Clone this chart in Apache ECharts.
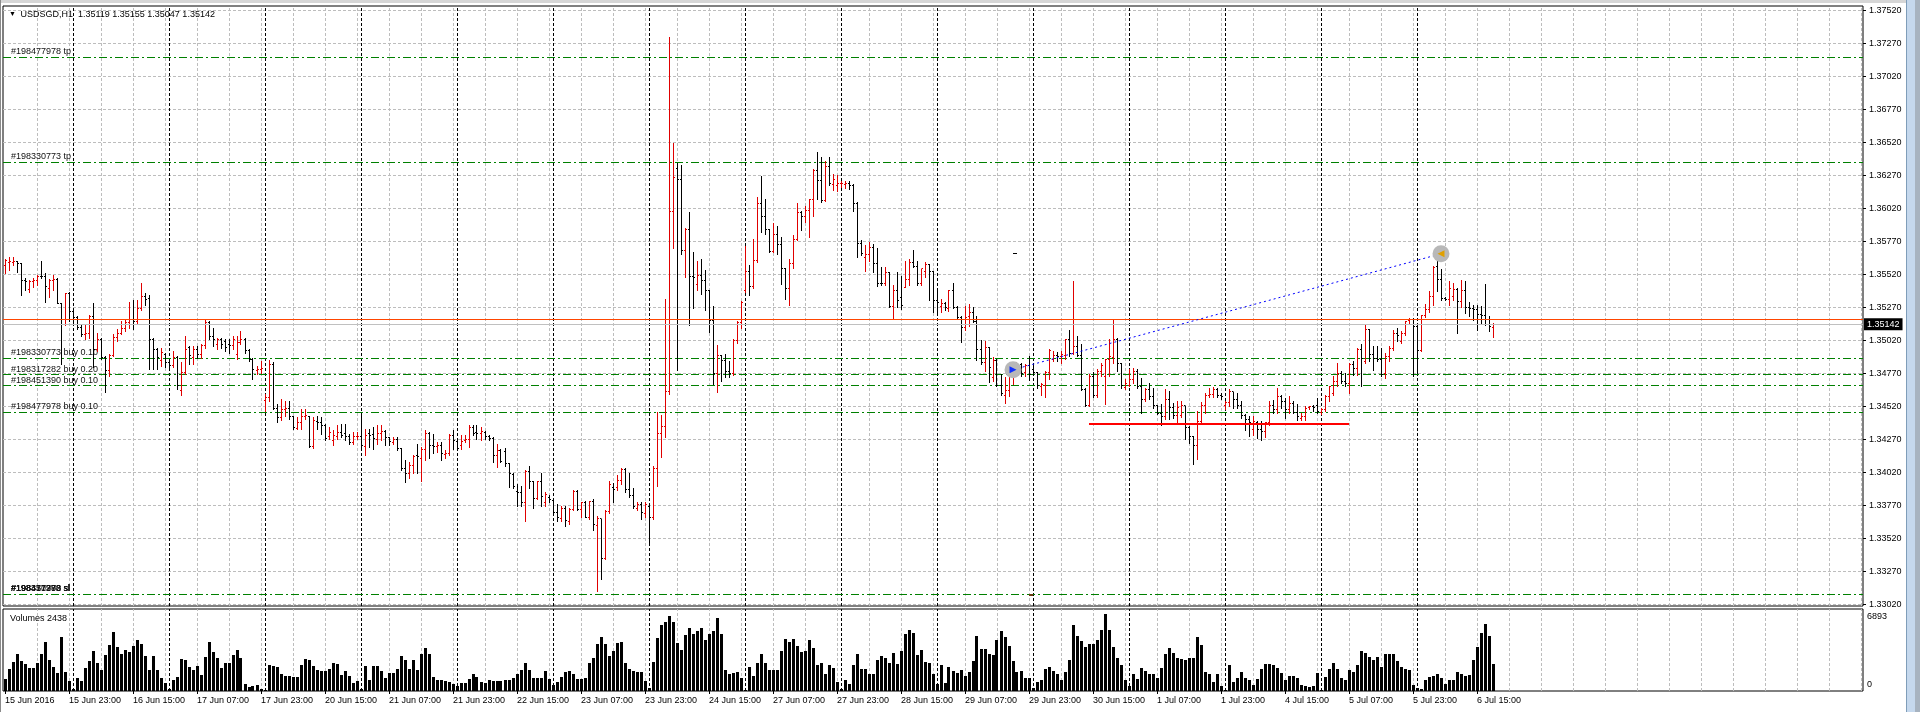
<!DOCTYPE html>
<html><head><meta charset="utf-8">
<script src="https://cdn.jsdelivr.net/npm/echarts@6/dist/echarts.min.js"></script>
<style>html,body{margin:0;padding:0;background:#fff;overflow:hidden}#c{width:1920px;height:712px}</style>
</head><body><div id="c"></div>
<script>
// ---------- data ----------
const symbolName = 'USDSGD,H1';
const yearLabel = '2016';
const tradingDays = ['15 Jun','16 Jun','17 Jun','20 Jun','21 Jun','22 Jun','23 Jun','24 Jun','27 Jun','28 Jun','29 Jun','30 Jun','1 Jul','4 Jul','5 Jul','6 Jul'];
const firstHour = 7, lastHour = 19;
const emptySlots = 92;

const openP = [
1.35590,1.35608,1.35610,1.35615,1.35603,1.35478,1.35403,1.35465,1.35478,1.35508,
1.35503,1.35415,1.35473,1.35485,1.35298,1.35178,1.35378,1.35240,1.35190,1.35115,
1.35065,1.35073,1.35198,1.34953,1.35028,1.34890,1.34790,1.34908,1.35040,1.35073,
1.35108,1.35153,1.35178,1.35165,1.35265,1.35353,1.35340,1.35028,1.34953,1.34865,
1.34915,1.34853,1.34828,1.34890,1.34640,1.34778,1.34965,1.34890,1.34953,1.34915,
1.34978,1.35153,1.35053,1.34990,1.35028,1.35015,1.34990,1.34983,1.34915,1.35003,
1.35028,1.34940,1.34878,1.34790,1.34800,1.34563,1.34588,1.34838,1.34505,1.34438,
1.34495,1.34505,1.34445,1.34355,1.34400,1.34445,1.34445,1.34213,1.34405,1.34400,
1.34375,1.34288,1.34263,1.34295,1.34320,1.34313,1.34295,1.34245,1.34288,1.34295,
1.34213,1.34313,1.34305,1.34270,1.34313,1.34330,1.34280,1.34245,1.34270,1.34200,
1.34045,1.34013,1.34075,1.34150,1.34125,1.34195,1.34313,1.34220,1.34213,1.34225,
1.34155,1.34163,1.34300,1.34250,1.34225,1.34263,1.34270,1.34363,1.34320,1.34313,
1.34325,1.34288,1.34275,1.34145,1.34188,1.34176,1.34088,1.34006,1.33873,1.33868,
1.33791,1.34025,1.33950,1.33824,1.33950,1.33791,1.33832,1.33804,1.33713,1.33667,
1.33749,1.33647,1.33741,1.33873,1.33736,1.33791,1.33680,1.33796,1.33620,1.33667,
1.33364,1.33722,1.33906,1.33901,1.33956,1.34038,1.33887,1.33846,1.33749,1.33777,
1.33708,1.33763,1.33675,1.34052,1.34314,1.34364,1.34631,1.35995,1.36325,1.36237,
1.35705,1.35862,1.35504,1.35444,1.35512,1.35471,1.35402,1.35168,1.34769,1.34906,
1.34865,1.34782,1.34769,1.35017,1.35154,1.35402,1.35540,1.35430,1.35626,1.36055,
1.35959,1.35858,1.35694,1.35823,1.35747,1.35563,1.35411,1.35601,1.35783,1.35992,
1.35959,1.36005,1.36086,1.36308,1.36232,1.36080,1.36338,1.36202,1.36194,1.36207,
1.36202,1.36212,1.36194,1.36055,1.35757,1.35651,1.35671,1.35722,1.35606,1.35454,
1.35454,1.35538,1.35278,1.35399,1.35348,1.35424,1.35480,1.35613,1.35581,1.35454,
1.35545,1.35596,1.35543,1.35323,1.35278,1.35298,1.35260,1.35399,1.35273,1.35197,
1.35116,1.35202,1.35235,1.35164,1.34949,1.34856,1.34964,1.34742,1.34869,1.34679,
1.34605,1.34637,1.34763,1.34813,1.34839,1.34776,1.34826,1.34801,1.34776,1.34670,
1.34680,1.34776,1.34877,1.34902,1.34897,1.34902,1.35028,1.34922,1.34977,1.34907,
1.34649,1.34528,1.34750,1.34599,1.34788,1.34750,1.34877,1.34889,1.35028,1.34846,
1.34662,1.34680,1.34720,1.34788,1.34670,1.34574,1.34649,1.34594,1.34523,1.34467,
1.34442,1.34574,1.34510,1.34447,1.34452,1.34523,1.34359,1.34291,1.34220,1.34402,
1.34523,1.34604,1.34611,1.34649,1.34604,1.34523,1.34548,1.34629,1.34574,1.34523,
1.34447,1.34417,1.34343,1.34394,1.34348,1.34330,1.34394,1.34525,1.34494,1.34596,
1.34558,1.34494,1.34545,1.34474,1.34431,1.34444,1.34515,1.34520,1.34525,1.34474,
1.34494,1.34596,1.34621,1.34709,1.34767,1.34709,1.34696,1.34835,1.34810,1.34949,
1.34861,1.35101,1.34911,1.34886,1.34873,1.34772,1.34899,1.34962,1.35075,1.35012,
1.35075,1.35171,1.35176,1.35126,1.34944,1.35207,1.35252,1.35353,1.35580,1.35479,
1.35340,1.35333,1.35353,1.35404,1.35315,1.35398,1.35272,1.35265,1.35252,1.35214,
1.35207,1.35181,1.35119];

const highP = [
1.35640,1.35653,1.35653,1.35623,1.35608,1.35490,1.35478,1.35490,1.35515,1.35623,
1.35528,1.35483,1.35515,1.35490,1.35303,1.35383,1.35390,1.35248,1.35203,1.35140,
1.35140,1.35215,1.35303,1.35078,1.35040,1.34903,1.34915,1.35065,1.35103,1.35165,
1.35178,1.35315,1.35328,1.35328,1.35453,1.35378,1.35365,1.35040,1.34965,1.34965,
1.34928,1.34878,1.34940,1.34903,1.34853,1.35053,1.34978,1.34978,1.34978,1.34990,
1.35178,1.35165,1.35115,1.35040,1.35040,1.35028,1.35028,1.35053,1.35053,1.35090,
1.35040,1.34953,1.34890,1.34828,1.34863,1.34613,1.34875,1.34855,1.34538,1.34575,
1.34563,1.34563,1.34450,1.34438,1.34500,1.34500,1.34450,1.34438,1.34450,1.34438,
1.34388,1.34363,1.34338,1.34375,1.34388,1.34388,1.34313,1.34325,1.34325,1.34463,
1.34350,1.34350,1.34363,1.34375,1.34380,1.34338,1.34288,1.34288,1.34288,1.34205,
1.34113,1.34100,1.34150,1.34238,1.34213,1.34338,1.34325,1.34313,1.34250,1.34250,
1.34188,1.34313,1.34338,1.34263,1.34300,1.34300,1.34375,1.34375,1.34380,1.34363,
1.34330,1.34300,1.34288,1.34238,1.34200,1.34204,1.34094,1.34016,1.33928,1.33914,
1.34038,1.34066,1.33956,1.33956,1.34011,1.33873,1.33846,1.33818,1.33777,1.33763,
1.33763,1.33749,1.33887,1.33887,1.33796,1.33804,1.33804,1.33818,1.33686,1.33667,
1.33735,1.33956,1.33942,1.33997,1.34052,1.34052,1.34011,1.33901,1.33791,1.33791,
1.33791,1.33777,1.34066,1.34479,1.34452,1.35333,1.37322,1.36518,1.36366,1.36353,
1.35871,1.35995,1.35691,1.35623,1.35636,1.35554,1.35402,1.35278,1.34989,1.34906,
1.34920,1.34865,1.35030,1.35168,1.35320,1.35733,1.35595,1.35790,1.36106,1.36270,
1.36093,1.35866,1.35909,1.35891,1.35803,1.35570,1.35639,1.35820,1.36060,1.36000,
1.36043,1.36093,1.36320,1.36452,1.36409,1.36378,1.36414,1.36283,1.36277,1.36232,
1.36232,1.36227,1.36207,1.36068,1.35783,1.35740,1.35765,1.35752,1.35722,1.35576,
1.35576,1.35538,1.35437,1.35538,1.35512,1.35626,1.35639,1.35707,1.35626,1.35563,
1.35613,1.35601,1.35543,1.35411,1.35336,1.35310,1.35404,1.35454,1.35278,1.35202,
1.35278,1.35293,1.35273,1.35202,1.35020,1.35015,1.34970,1.34894,1.34881,1.34768,
1.34740,1.34801,1.34851,1.34856,1.34851,1.34839,1.34902,1.34831,1.34781,1.34700,
1.34788,1.34957,1.34940,1.34932,1.34940,1.35033,1.35099,1.35470,1.35053,1.34990,
1.34662,1.34763,1.34781,1.34801,1.34851,1.34882,1.35033,1.35180,1.35041,1.34851,
1.34725,1.34801,1.34813,1.34801,1.34738,1.34662,1.34700,1.34662,1.34528,1.34536,
1.34654,1.34637,1.34548,1.34561,1.34561,1.34523,1.34372,1.34296,1.34485,1.34553,
1.34624,1.34662,1.34669,1.34662,1.34624,1.34561,1.34649,1.34629,1.34624,1.34561,
1.34460,1.34447,1.34444,1.34406,1.34406,1.34399,1.34558,1.34570,1.34659,1.34608,
1.34583,1.34601,1.34558,1.34540,1.34469,1.34525,1.34525,1.34532,1.34583,1.34507,
1.34608,1.34676,1.34747,1.34848,1.34785,1.34772,1.34848,1.34861,1.34962,1.34994,
1.35146,1.35106,1.34974,1.34974,1.34962,1.34924,1.34974,1.35101,1.35113,1.35088,
1.35171,1.35189,1.35189,1.35151,1.35214,1.35297,1.35391,1.35585,1.35681,1.35560,
1.35353,1.35467,1.35459,1.35416,1.35479,1.35467,1.35308,1.35290,1.35290,1.35282,
1.35449,1.35202,1.35155];

const lowP = [
1.35528,1.35553,1.35590,1.35540,1.35365,1.35403,1.35390,1.35428,1.35440,1.35490,
1.35315,1.35353,1.35403,1.35303,1.34840,1.35140,1.35165,1.35153,1.35103,1.35053,
1.35028,1.35040,1.34815,1.34940,1.34878,1.34628,1.34753,1.34903,1.35015,1.35065,
1.35090,1.35115,1.35103,1.35153,1.35253,1.35290,1.34803,1.34803,1.34803,1.34828,
1.34815,1.34815,1.34815,1.34653,1.34603,1.34765,1.34840,1.34840,1.34890,1.34890,
1.34965,1.35028,1.34978,1.34953,1.34965,1.34940,1.34928,1.34953,1.34878,1.34990,
1.34928,1.34865,1.34728,1.34765,1.34775,1.34488,1.34563,1.34500,1.34400,1.34413,
1.34450,1.34425,1.34350,1.34350,1.34350,1.34425,1.34208,1.34205,1.34350,1.34313,
1.34263,1.34275,1.34225,1.34275,1.34288,1.34263,1.34238,1.34238,1.34275,1.34213,
1.34150,1.34213,1.34200,1.34238,1.34263,1.34225,1.34225,1.34238,1.34188,1.34038,
1.33945,1.33975,1.34013,1.34013,1.33955,1.34113,1.34125,1.34163,1.34175,1.34113,
1.34125,1.34150,1.34200,1.34188,1.34200,1.34250,1.34213,1.34300,1.34275,1.34263,
1.34275,1.34263,1.34100,1.34063,1.34100,1.34066,1.33906,1.33901,1.33763,1.33763,
1.33653,1.33901,1.33749,1.33818,1.33763,1.33763,1.33791,1.33708,1.33653,1.33653,
1.33611,1.33625,1.33736,1.33736,1.33680,1.33680,1.33667,1.33584,1.33116,1.33212,
1.33364,1.33708,1.33791,1.33887,1.33928,1.33873,1.33832,1.33749,1.33736,1.33667,
1.33680,1.33487,1.33667,1.33914,1.34135,1.34286,1.34617,1.35719,1.34796,1.35678,
1.35499,1.35140,1.35264,1.35402,1.35375,1.35251,1.35085,1.34686,1.34631,1.34713,
1.34741,1.34741,1.34755,1.35003,1.35113,1.35388,1.35361,1.35420,1.35613,1.35841,
1.35828,1.35689,1.35689,1.35677,1.35449,1.35336,1.35290,1.35568,1.35778,1.35858,
1.35916,1.35803,1.35967,1.36093,1.36068,1.36075,1.36202,1.36161,1.36156,1.36182,
1.36176,1.36169,1.36000,1.35651,1.35664,1.35545,1.35626,1.35538,1.35429,1.35444,
1.35444,1.35273,1.35189,1.35273,1.35260,1.35424,1.35437,1.35576,1.35437,1.35444,
1.35500,1.35323,1.35235,1.35227,1.35235,1.35247,1.35242,1.35268,1.35184,1.35007,
1.35101,1.35126,1.35159,1.34869,1.34838,1.34788,1.34704,1.34712,1.34672,1.34603,
1.34545,1.34599,1.34687,1.34763,1.34750,1.34750,1.34720,1.34763,1.34662,1.34604,
1.34594,1.34725,1.34864,1.34864,1.34846,1.34877,1.34902,1.34914,1.34902,1.34644,
1.34523,1.34523,1.34594,1.34594,1.34750,1.34536,1.34750,1.34851,1.34788,1.34662,
1.34649,1.34675,1.34700,1.34662,1.34473,1.34561,1.34579,1.34510,1.34460,1.34377,
1.34422,1.34422,1.34435,1.34397,1.34442,1.34271,1.34245,1.34081,1.34124,1.34397,
1.34473,1.34594,1.34594,1.34594,1.34579,1.34498,1.34523,1.34510,1.34510,1.34435,
1.34341,1.34296,1.34305,1.34280,1.34267,1.34287,1.34381,1.34469,1.34469,1.34507,
1.34431,1.34469,1.34469,1.34419,1.34414,1.34419,1.34500,1.34482,1.34469,1.34464,
1.34482,1.34558,1.34608,1.34671,1.34696,1.34671,1.34621,1.34760,1.34760,1.34671,
1.34848,1.34861,1.34798,1.34861,1.34747,1.34734,1.34861,1.34949,1.35012,1.34999,
1.35063,1.35151,1.34747,1.34772,1.34936,1.35196,1.35239,1.35290,1.35391,1.35328,
1.35323,1.35290,1.35323,1.35075,1.35277,1.35227,1.35207,1.35176,1.35101,1.35151,
1.35138,1.35088,1.35047];

const closeP = [
1.35623,1.35620,1.35618,1.35603,1.35478,1.35465,1.35465,1.35473,1.35508,1.35503,
1.35428,1.35473,1.35485,1.35303,1.35178,1.35378,1.35240,1.35190,1.35115,1.35065,
1.35073,1.35198,1.34953,1.35028,1.34890,1.34790,1.34903,1.35040,1.35073,1.35108,
1.35153,1.35178,1.35165,1.35265,1.35353,1.35328,1.35028,1.34953,1.34890,1.34928,
1.34853,1.34828,1.34890,1.34678,1.34778,1.34953,1.34903,1.34953,1.34915,1.34978,
1.35153,1.35053,1.35028,1.35028,1.34990,1.34965,1.34983,1.35028,1.35003,1.35028,
1.34940,1.34878,1.34803,1.34803,1.34805,1.34588,1.34838,1.34505,1.34438,1.34495,
1.34505,1.34445,1.34363,1.34400,1.34445,1.34450,1.34213,1.34413,1.34400,1.34375,
1.34275,1.34325,1.34300,1.34320,1.34300,1.34295,1.34245,1.34288,1.34295,1.34225,
1.34300,1.34300,1.34275,1.34313,1.34330,1.34280,1.34250,1.34270,1.34200,1.34045,
1.34013,1.34075,1.34138,1.34138,1.34195,1.34313,1.34220,1.34213,1.34225,1.34163,
1.34163,1.34300,1.34263,1.34200,1.34255,1.34270,1.34363,1.34313,1.34313,1.34330,
1.34288,1.34275,1.34150,1.34188,1.34105,1.34088,1.34011,1.33915,1.33868,1.33791,
1.34025,1.33950,1.33824,1.33950,1.33840,1.33851,1.33813,1.33713,1.33680,1.33749,
1.33653,1.33741,1.33873,1.33741,1.33791,1.33680,1.33796,1.33625,1.33667,1.33364,
1.33722,1.33928,1.33887,1.33956,1.34038,1.33887,1.33846,1.33763,1.33777,1.33713,
1.33777,1.33680,1.34052,1.34314,1.34364,1.34631,1.35995,1.36256,1.36237,1.35705,
1.35862,1.35504,1.35499,1.35512,1.35471,1.35402,1.35168,1.34769,1.34906,1.34865,
1.34782,1.34769,1.35017,1.35154,1.35306,1.35540,1.35430,1.35626,1.36055,1.35959,
1.35858,1.35694,1.35823,1.35747,1.35563,1.35411,1.35601,1.35783,1.35992,1.35959,
1.36005,1.36086,1.36308,1.36232,1.36080,1.36338,1.36212,1.36237,1.36207,1.36212,
1.36212,1.36194,1.36055,1.35757,1.35677,1.35671,1.35722,1.35606,1.35449,1.35449,
1.35538,1.35278,1.35399,1.35323,1.35285,1.35480,1.35613,1.35581,1.35449,1.35563,
1.35596,1.35543,1.35323,1.35310,1.35298,1.35273,1.35399,1.35273,1.35197,1.35116,
1.35197,1.35235,1.35164,1.34949,1.34856,1.34964,1.34818,1.34869,1.34679,1.34616,
1.34640,1.34755,1.34821,1.34846,1.34770,1.34826,1.34763,1.34776,1.34675,1.34687,
1.34776,1.34947,1.34902,1.34897,1.34914,1.35028,1.34922,1.34977,1.34907,1.34649,
1.34528,1.34750,1.34599,1.34788,1.34826,1.34877,1.34897,1.35028,1.34846,1.34675,
1.34695,1.34720,1.34788,1.34670,1.34574,1.34649,1.34594,1.34523,1.34467,1.34442,
1.34574,1.34510,1.34447,1.34510,1.34523,1.34359,1.34291,1.34220,1.34402,1.34523,
1.34604,1.34611,1.34649,1.34604,1.34594,1.34548,1.34629,1.34574,1.34523,1.34447,
1.34417,1.34397,1.34406,1.34343,1.34330,1.34394,1.34525,1.34494,1.34596,1.34558,
1.34494,1.34545,1.34474,1.34444,1.34444,1.34507,1.34520,1.34515,1.34482,1.34494,
1.34596,1.34671,1.34709,1.34767,1.34709,1.34696,1.34835,1.34810,1.34949,1.34886,
1.35101,1.34911,1.34886,1.34873,1.34760,1.34899,1.34962,1.35075,1.35055,1.35075,
1.35164,1.35176,1.35126,1.34944,1.35207,1.35252,1.35353,1.35575,1.35479,1.35340,
1.35333,1.35416,1.35404,1.35315,1.35398,1.35272,1.35265,1.35252,1.35214,1.35207,
1.35181,1.35126,1.35142];

const volumes = [
1110,2010,2610,3300,2700,2460,2040,2040,2520,3300,
4380,2760,2160,1620,4830,1710,900,210,1200,870,
2040,2670,3570,2520,1860,3210,4110,5340,3960,3300,
3720,3510,4020,4620,4260,3120,1860,3120,1860,1170,
720,210,960,1260,2910,2820,2160,1860,2220,1410,
3060,4380,3510,3000,2040,2520,2520,3210,3720,3000,
660,360,420,510,210,120,2310,2220,2160,1560,
1320,1320,1260,1260,2310,2910,2820,2220,1920,1800,
1800,2010,2520,2460,1410,1770,1320,720,900,210,
2250,960,2250,2250,1800,1140,1620,1620,2010,3120,
2760,1950,2820,1920,3360,3900,3300,1260,960,960,
870,810,600,420,750,750,1110,1560,1260,810,
720,960,870,870,870,960,1020,1200,1500,1920,
2490,1860,1170,1170,1170,1800,1110,510,810,1260,
1710,1800,1500,1080,1110,1140,2520,3000,4200,4860,
4260,3180,3600,4320,4410,2520,2010,1770,1710,1710,
900,300,2610,4800,5910,6210,6720,6210,4320,3660,
5010,5640,5160,5400,5640,4560,5160,5400,6540,5100,
1920,1500,1620,1740,1200,120,2160,1320,2520,3300,
2520,1860,1860,1860,3570,4650,4380,4710,4020,3510,
3600,4560,3900,2310,2520,1500,2310,2040,810,150,
1020,600,2310,3360,1950,1950,1560,1560,2820,3120,
3000,2520,3450,2460,3570,5160,5460,5250,3210,3660,
2610,2520,1500,600,2310,720,2160,1770,1620,1860,
1320,1710,2670,4920,3810,3810,3300,3210,4560,5370,
4860,4050,2670,1710,1770,1170,1170,300,810,1020,
2010,2160,1800,1500,1020,1710,2760,5970,4920,4470,
3960,4260,4260,4620,5520,6893,5460,3960,3000,2310,
960,450,1500,1050,2100,1800,1560,1500,1200,2070,
3360,3870,3450,3000,2850,2820,3000,3000,4860,4110,
1710,1500,810,1500,420,60,2310,810,1200,1710,
1170,1020,510,1110,1950,2400,2400,2310,2070,1620,
1020,1320,1320,1200,570,420,360,420,1620,120,
1260,2010,2520,2010,1200,960,1860,1710,2310,3570,
3420,3060,2760,3060,2160,3300,3300,3300,2670,2160,
2010,1860,510,300,210,960,1260,1320,1560,1200,
660,960,1020,1710,1500,1320,1410,2760,3960,5220,
6000,4920,2438];

const priceTicks = [1.37520,1.37270,1.37020,1.36770,1.36520,1.36270,1.36020,1.35770,1.35520,1.35270,1.35020,1.34770,1.34520,1.34270,1.34020,1.33770,1.33520,1.33270,1.33020];
const volumeTicks = [0, 6893];
const priceMin = 1.33006, priceMax = 1.37556, volumeMax = 7380;

const orderNames = ['#198477978 tp','#198330773 tp','#198330773 buy 0.10','#198317282 buy 0.20','#198451390 buy 0.10','#198477978 buy 0.10','#198317282 sl','#198330773 sl','#198451390 sl','#198477978 sl'];
const orderPrices = [1.37170,1.36374,1.34887,1.34760,1.34677,1.34475,1.33094,1.33094,1.33094,1.33094];

const horizontalLevel = 1.35180;
const bidPrice = 1.35142;
const supportTimes = ['30 Jun 14:00','5 Jul 07:00'];
const supportPrice = 1.34389;
const tradeTimes = ['29 Jun 19:00','6 Jul 06:00'];
const tradePrices = [1.34798, 1.35677];
const markerDashTimes = ['29 Jun 19:00','29 Jun 20:00'];
const markerDashPrice = 1.35681;
const stopMarkTimes = ['29 Jun 23:00','30 Jun 00:00'];

// ---------- build ----------
const times = [];
tradingDays.forEach((d, k) => {
  const h0 = k === 0 ? firstHour : 0;
  const h1 = k === tradingDays.length - 1 ? lastHour : 23;
  for (let h = h0; h <= h1; h++) times.push(d + ' ' + String(h).padStart(2, '0') + ':00');
});
const n = Math.min(times.length, openP.length, highP.length, lowP.length, closeP.length, volumes.length);
const cats = times.slice();
for (let k = 0; k < emptySlots; k++) cats.push('slot' + k);

const ohlc = [], vol = [];
for (let i = 0; i < n; i++) {
  ohlc.push([i, openP[i], highP[i], lowP[i], closeP[i]]);
  vol.push([i, volumes[i]]);
}
const minorIdx = [], dayIdx = [];
for (let i = 8; i < cats.length; i += 8) minorIdx.push(i);
times.forEach((t, i) => { if (t.endsWith(' 00:00')) dayIdx.push(i); });

const FONT = '"Liberation Sans", Arial, sans-serif';
const fmt = v => v.toFixed(5);
const upColor = '#e00000', downColor = '#000000';
const gridColor = '#bdbdbd';

function vLines() {
  return minorIdx.map(i => ({xAxis: i, lineStyle: {color: gridColor, type: [3, 2], width: 1}}))
    .concat(dayIdx.map(i => ({xAxis: i, lineStyle: {color: '#000', type: [3, 2], width: 1}})));
}
const hLines = priceTicks.map(v => ({yAxis: v, lineStyle: {color: gridColor, type: [3, 2], width: 1}}));

const labelInterval = (idx) => idx < times.length && idx % 16 === 0;

const L = n - 1;
const chart = echarts.init(document.getElementById('c'), null, {renderer: 'canvas'});
chart.setOption({
  animation: false,
  backgroundColor: '#ffffff',
  textStyle: {fontFamily: FONT},
  title: [
    {text: '{tri|▼} ' + symbolName + '  ' + fmt(openP[L]) + ' ' + fmt(highP[L]) + ' ' + fmt(lowP[L]) + ' ' + fmt(closeP[L]),
     left: 9, top: 10, padding: 0,
     textStyle: {fontSize: 9, fontWeight: 'normal', color: '#000', fontFamily: FONT,
       rich: {tri: {fontSize: 7, color: '#000', padding: [0, 2, 0, 0]}}}},
    {text: 'Volumes ' + volumes[L], left: 10, top: 614, padding: 0,
     textStyle: {fontSize: 9, fontWeight: 'normal', color: '#000', fontFamily: FONT}}
  ],
  grid: [
    {left: 3, top: 6, width: 1860, height: 600, show: true, borderColor: '#000', borderWidth: 1, backgroundColor: 'transparent'},
    {left: 3, top: 609, width: 1860, height: 82, show: true, borderColor: '#000', borderWidth: 1, backgroundColor: 'transparent'}
  ],
  xAxis: [
    {type: 'category', gridIndex: 0, data: cats, boundaryGap: true,
     axisLine: {show: false}, axisTick: {show: false}, axisLabel: {show: false}, splitLine: {show: false}},
    {type: 'category', gridIndex: 1, data: cats, boundaryGap: true,
     axisLine: {show: false},
     axisTick: {show: true, alignWithLabel: true, interval: labelInterval, length: 3, lineStyle: {color: '#000'}},
     axisLabel: {interval: labelInterval, align: 'left', margin: 5, fontSize: 9, color: '#000', fontFamily: FONT,
       formatter: (v, idx) => idx === 0 ? tradingDays[0] + ' ' + yearLabel : v},
     splitLine: {show: false}}
  ],
  yAxis: [
    {type: 'value', gridIndex: 0, position: 'right', min: priceMin, max: priceMax,
     axisLine: {show: false}, splitLine: {show: false},
     axisTick: {show: true, customValues: priceTicks, length: 3, lineStyle: {color: '#000'}},
     axisLabel: {customValues: priceTicks, formatter: v => fmt(v), margin: 6, fontSize: 9, color: '#000', fontFamily: FONT}},
    {type: 'value', gridIndex: 1, position: 'right', min: 0, max: volumeMax,
     axisLine: {show: false}, splitLine: {show: false}, axisTick: {show: false},
     axisLabel: {customValues: volumeTicks, margin: 4, fontSize: 9, color: '#000', fontFamily: FONT,
       formatter: v => v === 0 ? '{lo|0}' : '{hi|' + v + '}',
       rich: {lo: {fontSize: 9, padding: [0, 0, 12, 0]}, hi: {fontSize: 9, padding: [5, 0, 0, 0]}}}}
  ],
  series: [
    {name: 'grid-main', type: 'line', xAxisIndex: 0, yAxisIndex: 0, data: [], silent: true,
     markLine: {silent: true, symbol: ['none', 'none'], precision: 5, z: 1, animation: false, label: {show: false},
       data: hLines.concat(vLines())}},
    {name: 'grid-vol', type: 'line', xAxisIndex: 1, yAxisIndex: 1, data: [], silent: true,
     markLine: {silent: true, symbol: ['none', 'none'], precision: 5, z: 1, animation: false, label: {show: false},
       data: vLines()}},
    {name: 'orders', type: 'line', xAxisIndex: 0, yAxisIndex: 0, data: [], silent: true,
     markLine: {silent: true, symbol: ['none', 'none'], precision: 5, z: 2, animation: false,
       lineStyle: {color: '#008000', type: [8, 3, 2, 3], width: 1},
       label: {show: true, position: 'insideStartTop', distance: [8, 1], formatter: '{b}', color: '#111', fontSize: 9, fontFamily: FONT},
       data: orderNames.map((nm, k) => ({name: nm, yAxis: orderPrices[k]}))}},
    {name: 'USDSGD', type: 'custom', xAxisIndex: 0, yAxisIndex: 0, z: 10, data: ohlc,
     encode: {x: 0, y: [1, 2, 3, 4]},
     renderItem: (params, api) => {
       const idx = api.value(0);
       const pH = api.coord([idx, api.value(2)]);
       const x = Math.floor(pH[0]) + 0.5;
       const yH = Math.round(pH[1]);
       const yL = Math.round(api.coord([idx, api.value(3)])[1]);
       const yO = Math.floor(api.coord([idx, api.value(1)])[1]) + 0.5;
       const yC = Math.floor(api.coord([idx, api.value(4)])[1]) + 0.5;
       const color = api.value(4) >= api.value(1) ? upColor : downColor;
       const st = {stroke: color, lineWidth: 1, fill: null};
       return {type: 'group', children: [
         {type: 'line', shape: {x1: x, y1: yH, x2: x, y2: Math.max(yL + 1, yH + 1)}, style: st},
         {type: 'line', shape: {x1: x - 1.5, y1: yO, x2: x, y2: yO}, style: st},
         {type: 'line', shape: {x1: x, y1: yC, x2: x + 1.5, y2: yC}, style: st}
       ]};
     }},
    {name: 'Volumes', type: 'custom', xAxisIndex: 1, yAxisIndex: 1, z: 10, data: vol,
     encode: {x: 0, y: 1},
     renderItem: (params, api) => {
       const p = api.coord([api.value(0), api.value(1)]);
       const b = api.coord([api.value(0), 0]);
       const top = Math.round(p[1]);
       return {type: 'rect', shape: {x: Math.floor(p[0]) - 1, y: top, width: 3, height: Math.round(b[1]) - top}, style: {fill: '#000'}};
     }},
    {name: 'objects', type: 'line', xAxisIndex: 0, yAxisIndex: 0, data: [], silent: true, z: 20,
     markLine: {silent: true, symbol: ['none', 'none'], precision: 5, z: 20, animation: false, label: {show: false},
       data: [
         {yAxis: horizontalLevel, lineStyle: {color: '#ff4500', type: 'solid', width: 1}},
         {yAxis: bidPrice, lineStyle: {color: '#c0c0c0', type: 'solid', width: 1},
          label: {show: true, position: 'end', distance: 1, formatter: () => fmt(bidPrice), color: '#fff',
                  backgroundColor: '#000', padding: [2, 3, 1, 3], fontSize: 9, fontFamily: FONT}},
         [{coord: [supportTimes[0], supportPrice], lineStyle: {color: '#ff0000', width: 2, type: 'solid'}},
          {coord: [supportTimes[1], supportPrice]}],
         [{coord: [tradeTimes[0], tradePrices[0]], lineStyle: {color: '#0000ff', width: 1, type: [2, 3]}},
          {coord: [tradeTimes[1], tradePrices[1]]}],
         [{coord: [markerDashTimes[0], markerDashPrice], lineStyle: {color: '#000', width: 1, type: 'solid'}},
          {coord: [markerDashTimes[1], markerDashPrice]}],
         [{coord: [stopMarkTimes[0], orderPrices[6]], lineStyle: {color: '#6b3a10', width: 2, type: 'solid'}},
          {coord: [stopMarkTimes[1], orderPrices[6]]}]
       ]},
     markPoint: {silent: true, z: 21, animation: false, label: {show: false},
       data: [
         {coord: [tradeTimes[0], tradePrices[0]], symbol: 'circle', symbolSize: 17, itemStyle: {color: '#b8b8b8'}},
         {coord: [tradeTimes[1], tradePrices[1]], symbol: 'circle', symbolSize: 17, itemStyle: {color: '#b8b8b8'}},
         {coord: [tradeTimes[0], tradePrices[0]], symbol: 'triangle', symbolSize: [7, 7], symbolRotate: -90, itemStyle: {color: '#1030ff'}},
         {coord: [tradeTimes[1], tradePrices[1]], symbol: 'triangle', symbolSize: [7, 7], symbolRotate: 90, itemStyle: {color: '#e0a000'}}
       ]}}
  ],
  graphic: [
    {type: 'rect', left: 0, top: 0, shape: {width: 1920, height: 3}, style: {fill: '#d6d6d6'}, silent: true, z: 100},
    {type: 'rect', left: 0, top: 0, shape: {width: 1, height: 712}, style: {fill: '#8a8a8a'}, silent: true, z: 100},
    {type: 'rect', left: 1906, top: 0, shape: {width: 1, height: 712}, style: {fill: '#7f9db9'}, silent: true, z: 100},
    {type: 'rect', left: 1907, top: 0, shape: {width: 8, height: 712}, style: {fill: '#c5d8ed'}, silent: true, z: 100},
    {type: 'rect', left: 1915, top: 0, shape: {width: 5, height: 712}, style: {fill: '#a7b3c0'}, silent: true, z: 100}
  ]
});
</script>
</body></html>
